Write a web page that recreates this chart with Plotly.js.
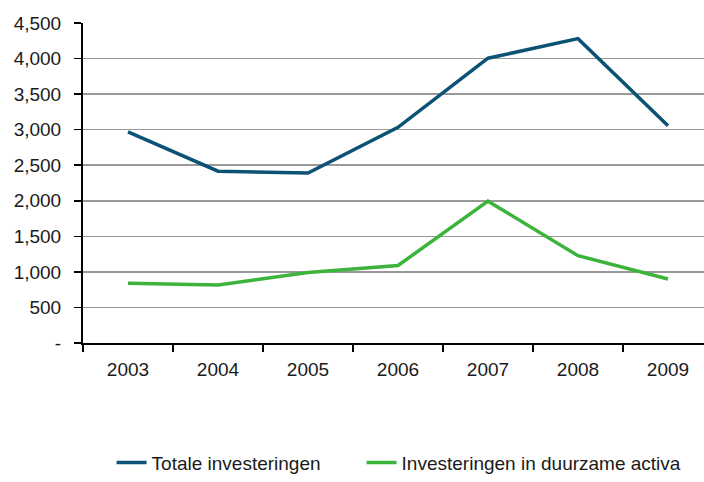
<!DOCTYPE html>
<html><head><meta charset="utf-8">
<script src="https://cdn.plot.ly/plotly-3.0.1.min.js"></script>
<style>html,body{margin:0;padding:0;background:#fff}#chart{width:704px;height:482px}</style>
</head><body><div id="chart"></div>
<script>
const years = ["2003","2004","2005","2006","2007","2008","2009"];
const totaleInvesteringen = [2970, 2416, 2390, 3033, 4005, 4280, 3055];
const duurzameActiva = [840, 816, 992, 1090, 1994, 1228, 900];
const yTickVals = [0, 500, 1000, 1500, 2000, 2500, 3000, 3500, 4000, 4500];
const yTickText = ["-", "500", "1,000", "1,500", "2,000", "2,500", "3,000", "3,500", "4,000", "4,500"];

const font = "'Liberation Sans', Arial, sans-serif";
const traces = [
  {x: years, y: totaleInvesteringen, type: "scatter", mode: "lines", name: "Totale investeringen",
   line: {color: "#0b5275", width: 3.5}, legend: "legend"},
  {x: years, y: duurzameActiva, type: "scatter", mode: "lines", name: "Investeringen in duurzame activa",
   line: {color: "#3cb43c", width: 3.5}, legend: "legend2"}
];
const legendBase = {orientation: "h", xanchor: "left", y: -0.374, yanchor: "middle",
                    font: {family: font, size: 19}, itemwidth: 30, bgcolor: "rgba(0,0,0,0)"};
const layout = {
  width: 704, height: 482,
  margin: {l: 83, r: 0, t: 23, b: 137},
  paper_bgcolor: "#fff", plot_bgcolor: "#fff",
  font: {family: font, size: 19, color: "#1a1a1a"},
  showlegend: true,
  legend: Object.assign({}, legendBase, {x: 0.046}),
  legend2: Object.assign({}, legendBase, {x: 0.4486}),
  xaxis: {type: "category", range: [-0.5, 6.4], showgrid: false, showline: true, linecolor: "#000", linewidth: 2,
          ticks: "outside", tickson: "boundaries", ticklen: 7, tickcolor: "#000", tickwidth: 1.5,
          zeroline: false, fixedrange: true, ticklabelstandoff: 8},
  yaxis: {range: [0, 4500], tickvals: yTickVals, ticktext: yTickText, showgrid: true, gridcolor: "#999", gridwidth: 1.5,
          showline: true, linecolor: "#000", linewidth: 2, ticks: "outside", ticklen: 7, tickcolor: "#000",
          tickwidth: 1.5, zeroline: false, mirror: false, ticklabelstandoff: 9}
};
Plotly.newPlot("chart", traces, layout, {displayModeBar: false, staticPlot: true});
</script></body></html>
